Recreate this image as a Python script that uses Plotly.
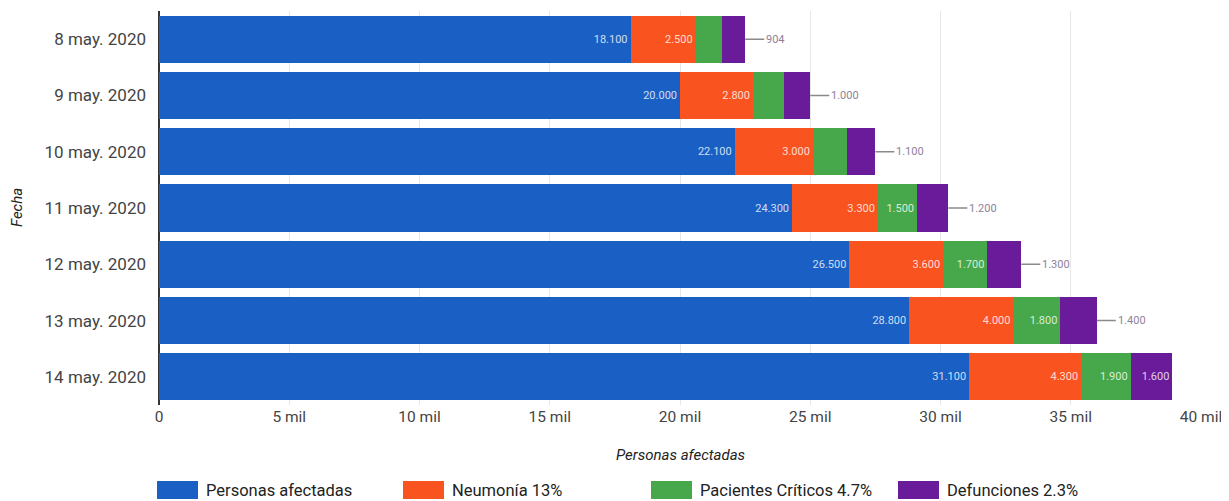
import plotly.graph_objects as go

fechas = ["8 may. 2020", "9 may. 2020", "10 may. 2020", "11 may. 2020",
          "12 may. 2020", "13 may. 2020", "14 may. 2020"]
personas = [18100, 20000, 22100, 24300, 26500, 28800, 31100]
neumonia = [2500, 2800, 3000, 3300, 3600, 4000, 4300]
criticos = [1000, 1200, 1300, 1500, 1700, 1800, 1900]
defunciones = [904, 1000, 1100, 1200, 1300, 1400, 1600]

series_names = ["Personas afectadas", "Neumonía 13%", "Pacientes Críticos 4.7%", "Defunciones 2.3%"]
colors = ["#1a5fc4", "#f95420", "#46a84a", "#6a1b9a"]
x_tickvals = [0, 5000, 10000, 15000, 20000, 25000, 30000, 35000, 40000]
x_ticktext = ["0", "5 mil", "10 mil", "15 mil", "20 mil", "25 mil", "30 mil", "35 mil", "40 mil"]

FONT = "Roboto"
OFF = 8  # page body margin


def fmt(v):
    return f"{v:,}".replace(",", ".")


def labels(vals, minval):
    return [fmt(v) if v >= minval else "" for v in vals]


fig = go.Figure()
data = [personas, neumonia, criticos, defunciones]
mins = [0, 0, 1500, 1600]
for name, vals, col, mn in zip(series_names, data, colors, mins):
    fig.add_trace(go.Bar(
        y=fechas, x=vals, name=name, orientation="h",
        marker=dict(color=col, line=dict(width=0)),
        text=labels(vals, mn), textposition="inside", insidetextanchor="end",
        textfont=dict(family=FONT, size=11, color="rgba(255,255,255,0.8)"),
        textangle=0, showlegend=False, hoverinfo="x+name",
    ))

# outside labels for small Defunciones segments
for f, p, n, c, d in zip(fechas, personas, neumonia, criticos, defunciones):
    if d < 1600:
        total = p + n + c + d
        fig.add_annotation(
            x=total, y=f, xref="x", yref="y", text=fmt(d),
            showarrow=True, arrowhead=0, arrowwidth=1.5, arrowcolor="#8a8a8a",
            ax=19, ay=0, xanchor="left", standoff=0,
            font=dict(family=FONT, size=11, color="#8e7f9a"),
        )

# plot area in page pixels
P_L, P_W = 159, 1042
L_T, L_H = 11, 394


def py2paper(py):
    return (L_T + L_H - py) / L_H


def px2paper(px):
    return (px - P_L) / P_W


legend_x = [157, 403, 651, 898]
for lx, name, col in zip(legend_x, series_names, colors):
    fig.add_shape(type="rect", xref="paper", yref="paper",
                  x0=px2paper(lx), x1=px2paper(lx + 41),
                  y0=py2paper(499), y1=py2paper(481),
                  fillcolor=col, line=dict(width=0))
    fig.add_annotation(xref="paper", yref="paper",
                       x=px2paper(lx + 47), y=py2paper(490),
                       text=name, showarrow=False, xanchor="left", yanchor="middle",
                       font=dict(family=FONT, size=16.5, color="#222"))

fig.add_annotation(xref="paper", yref="paper", x=0.5, y=py2paper(455),
                   text="<i>Personas afectadas</i>", showarrow=False,
                   xanchor="center", yanchor="middle",
                   font=dict(family=FONT, size=15, color="#222"))
fig.add_annotation(xref="paper", yref="paper", x=px2paper(17), y=0.5,
                   text="<i>Fecha</i>", showarrow=False, textangle=-90,
                   xanchor="center", yanchor="middle",
                   font=dict(family=FONT, size=15, color="#222"))

W, H = 1229 - OFF, 501 - OFF
fig.update_layout(
    barmode="stack", bargap=0.164,
    width=W, height=H,
    margin=dict(l=P_L - OFF, r=W - (P_L - OFF) - P_W, t=L_T - OFF,
                b=H - (L_T - OFF) - L_H, autoexpand=False),
    plot_bgcolor="white", paper_bgcolor="white",
    font=dict(family=FONT, size=15, color="#444"),
    uniformtext=dict(minsize=8, mode="show"),
)
fig.update_xaxes(range=[0, 40000], tickvals=x_tickvals, ticktext=x_ticktext,
                 showgrid=True, gridcolor="#e6e6e6", gridwidth=1,
                 zeroline=True, zerolinecolor="#333", zerolinewidth=1.5,
                 tickfont=dict(family=FONT, size=15.5, color="#444"),
                 ticks="", showline=False)
fig.update_yaxes(autorange="reversed", showgrid=False, ticks="",
                 ticklabelstandoff=12,
                 tickfont=dict(family=FONT, size=17, color="#444"))

fig.write_html("out.html")
